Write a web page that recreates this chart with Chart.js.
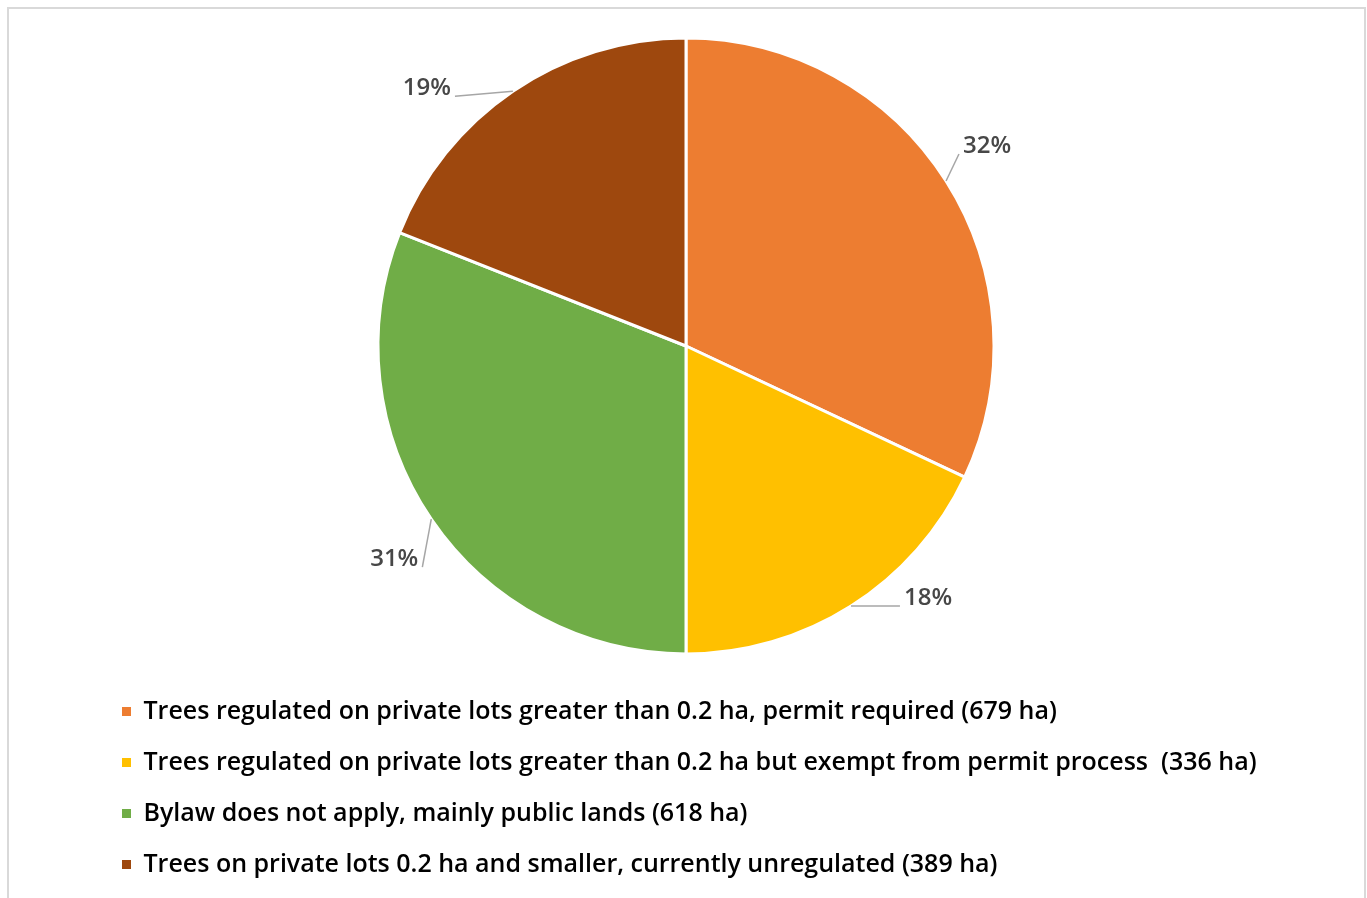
<!DOCTYPE html>
<html lang="en">
  <head>
    <meta charset="UTF-8" />
    <title>Tree regulation by area</title>
    <style>
      body { margin: 0; background: #fff; }
      .chart-box { width: 1367px; height: 898px; }
    </style>
  </head>
  <body>
    <div class="chart-box">
      <canvas id="pie-chart"></canvas>
    </div>
    <script src="https://cdn.jsdelivr.net/npm/chart.js@4.4.1/dist/chart.umd.min.js"></script>
    <script>
      var categories = [
        'Trees regulated on private lots greater than 0.2 ha, permit required (679 ha)',
        'Trees regulated on private lots greater than 0.2 ha but exempt from permit process  (336 ha)',
        'Bylaw does not apply, mainly public lands (618 ha)',
        'Trees on private lots 0.2 ha and smaller, currently unregulated (389 ha)',
      ];
      var shares = [32, 18, 31, 19];
      var sliceColors = ['#ED7D31', '#FFC000', '#70AD47', '#9E480E'];

      // where each % label sits, relative to the middle of its slice edge
      var labelOffsets = [
        [41, -35],
        [77, -8],
        [-37, 40],
        [-86, -3],
      ];

      var textColor = '#474747';

      // light grey frame round the chart
      var framePlugin = {
        id: 'frame',
        beforeDraw: function (chart) {
          var ctx = chart.ctx;
          ctx.save();
          ctx.strokeStyle = '#d9d9d9';
          ctx.lineWidth = 2;
          ctx.strokeRect(8, 8, 1357, 1000);
          ctx.restore();
        },
      };

      // percentage labels outside the pie with leader lines
      var outsideLabels = {
        id: 'outsideLabels',
        afterDatasetsDraw: function (chart) {
          var ctx = chart.ctx;
          var meta = chart.getDatasetMeta(0);
          ctx.save();
          ctx.font = '600 24px "Open Sans"';
          ctx.textAlign = 'center';
          ctx.textBaseline = 'middle';
          meta.data.forEach(function (arc, i) {
            var p = arc.getProps(['x', 'y', 'startAngle', 'endAngle', 'outerRadius'], true);
            var mid = (p.startAngle + p.endAngle) / 2;
            var ex = p.x + Math.cos(mid) * p.outerRadius;
            var ey = p.y + Math.sin(mid) * p.outerRadius;
            var lx = ex + labelOffsets[i][0];
            var ly = ey + labelOffsets[i][1];
            var text = shares[i] + '%';
            var w = ctx.measureText(text).width;
            var ax = lx > ex ? lx - w / 2 - 4 : lx + w / 2 + 4;
            var ay = ly + 8;

            ctx.strokeStyle = '#a6a6a6';
            ctx.lineWidth = 1.5;
            ctx.beginPath();
            ctx.moveTo(ex, ey);
            ctx.lineTo(ax, ay);
            ctx.stroke();

            ctx.fillStyle = textColor;
            ctx.fillText(text, lx, ly);
          });
          ctx.restore();
        },
      };

      new Chart(document.getElementById('pie-chart'), {
        type: 'pie',
        data: {
          labels: categories,
          datasets: [
            {
              data: shares,
              backgroundColor: sliceColors,
              borderColor: '#ffffff',
              borderWidth: 3,
              radius: 308,
            },
          ],
        },
        options: {
          responsive: true,
          maintainAspectRatio: false,
          animation: false,
          layout: {
            padding: { top: 19, left: 96, right: 91, bottom: 11 },
          },
          plugins: {
            tooltip: { enabled: false },
            legend: {
              position: 'bottom',
              align: 'start',
              labels: {
                boxWidth: 9,
                boxHeight: 9,
                padding: 26,
                color: textColor,
                font: { family: '"Open Sans"', size: 25, weight: '600' },
                generateLabels: function (chart) {
                  return chart.data.labels.map(function (label, i) {
                    return {
                      text: label,
                      fillStyle: sliceColors[i],
                      strokeStyle: sliceColors[i],
                      lineWidth: 0,
                      index: i,
                    };
                  });
                },
              },
            },
          },
        },
        plugins: [framePlugin, outsideLabels],
      });
    </script>
  </body>
</html>
